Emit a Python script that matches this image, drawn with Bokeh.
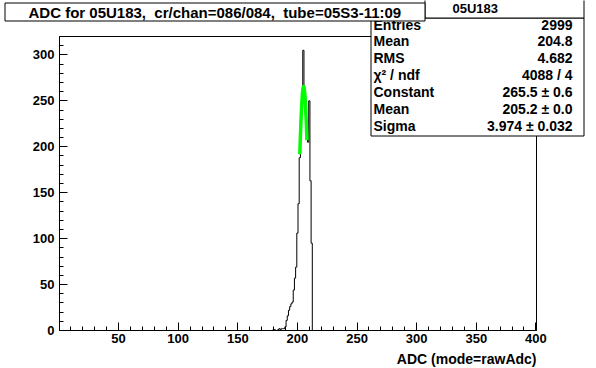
import numpy as np
from bokeh.plotting import figure
from bokeh.models import Range1d, FixedTicker, Label, BoxAnnotation
from bokeh.embed import file_html
from bokeh.resources import INLINE

# ---------------- data ----------------
adc_bin = [180, 181, 184, 185, 186, 187, 188, 189,
           190, 191, 192, 193, 194, 195, 196, 197, 198, 199,
           200, 201, 202, 203, 204, 205, 206, 207, 208, 209,
           210, 211, 212]
adc_count = [1, 1, 1, 2, 1, 2, 2, 2,
             4, 11, 16, 22, 26, 29, 31, 44, 57, 69,
             106, 138, 188, 230, 255, 305, 255, 235, 215, 205,
             250, 163, 95]
n_bins, x_lo, x_hi = 400, 0.5, 400.5
y_max = 320
x_ticks = [50, 100, 150, 200, 250, 300, 350, 400]
y_ticks = [0, 50, 100, 150, 200, 250, 300]

fit_constant, fit_mean, fit_sigma = 265.5, 205.2, 3.974
fit_range = (202.0, 208.0)

title_text = "ADC for 05U183,\u00a0\u00a0cr/chan=086/084,\u00a0\u00a0tube=05S3-11:09"
hist_name = "05U183"
stats_labels = ["Entries", "Mean", "RMS", "\u03c7\u00b2 / ndf", "Constant", "Mean", "Sigma"]
stats_values = ["2999", "204.8", "4.682", "4088 / 4",
                "265.5 \u00b1 0.6", "205.2 \u00b1 0.0", "3.974 \u00b1 0.032"]
x_axis_title = "ADC (mode=rawAdc)"

# ---------------- histogram arrays ----------------
edges = np.linspace(x_lo, x_hi, n_bins + 1)
counts = np.zeros(n_bins)
for b, c in zip(adc_bin, adc_count):
    counts[int(round(b - x_lo - 0.5))] = c

# ---------------- layout (pixels) ----------------
FONT = "Liberation Sans"
W, H = 596, 368
FL, FR, FT, FB = 59, 536, 36, 330   # visible ROOT frame
ppx = (FR - FL) / (x_hi - x_lo)
ppy = (FB - FT) / y_max
x_start = x_lo - FL / ppx
x_end = x_hi + (W - FR) / ppx
y_start = -(H - FB) / ppy
y_end = y_max + FT / ppy

p = figure(width=W, height=H, x_range=Range1d(x_start, x_end), y_range=Range1d(y_start, y_end),
           output_backend="svg", toolbar_location=None, title=None,
           min_border=0, min_border_left=0, min_border_right=0,
           min_border_top=0, min_border_bottom=0)
p.background_fill_color = "white"
p.border_fill_color = "white"
p.outline_line_color = None
p.xgrid.visible = False
p.ygrid.visible = False

p.xaxis.fixed_location = 0
p.yaxis.fixed_location = x_lo
p.xaxis.bounds = (x_lo, x_hi)
p.yaxis.bounds = (0, y_max)
for ax in (p.xaxis[0], p.yaxis[0]):
    ax.axis_line_color = "black"
    ax.major_tick_in = 8
    ax.major_tick_out = 0
    ax.minor_tick_in = 4
    ax.minor_tick_out = 0
    ax.major_tick_line_color = "black"
    ax.minor_tick_line_color = "black"
    ax.major_label_text_font = FONT
    ax.major_label_text_font_style = "bold"
    ax.major_label_text_font_size = "13px"
    ax.major_label_text_color = "black"
p.xaxis.ticker = FixedTicker(ticks=x_ticks, minor_ticks=list(range(10, 401, 10)))
p.yaxis.ticker = FixedTicker(ticks=y_ticks, minor_ticks=list(range(0, y_max + 1, 10)))
p.xaxis.major_label_standoff = 3
p.yaxis.major_label_standoff = 5

# top and right edges of the histogram frame
p.segment(x0=[x_lo, x_hi], y0=[y_max, 0], x1=[x_hi, x_hi], y1=[y_max, y_max],
          line_color="black", line_width=1)

# histogram outline
p.step(x=list(edges[:-1]) + [edges[-1]], y=list(counts) + [0.0], mode="after",
       line_color="black", line_width=1)

# gaussian fit
xf = np.linspace(fit_range[0], fit_range[1], 200)
yf = fit_constant * np.exp(-0.5 * ((xf - fit_mean) / fit_sigma) ** 2)
p.line(xf, yf, line_color="#00ff00", line_width=3.5)


def sy(yp):
    return H - yp


def box(l, t, r, b):
    p.add_layout(BoxAnnotation(left=l, right=r, top=sy(t), bottom=sy(b),
                               left_units="screen", right_units="screen",
                               top_units="screen", bottom_units="screen",
                               fill_color="white", fill_alpha=1.0,
                               line_color="black", line_width=1, line_alpha=1.0))


def label(xp, yp, text, size, align="left", baseline="middle", style="bold"):
    p.add_layout(Label(x=xp, y=sy(yp), x_units="screen", y_units="screen",
                       text=text, text_font=FONT, text_font_style=style,
                       text_font_size=size, text_align=align, text_baseline=baseline,
                       text_color="black"))


# x axis title
label(536, 358, x_axis_title, "14px", align="right")

# stats box
box(370.5, 17.5, 583.5, 135.5)
for i, (lab, val) in enumerate(zip(stats_labels, stats_values)):
    yc = 24 + i * 16.9
    label(373, yc, lab, "14px")
    label(572, yc, val, "14px", align="right")

# header box with histogram name
box(424.5, -1, 583.5, 17.5)
label(452, 8, hist_name, "13px")

# title box
box(4.5, 2.5, 424.5, 20.5)
label(28, 11.5, title_text, "15px")

open("out.html", "w").write(file_html(p, INLINE))
